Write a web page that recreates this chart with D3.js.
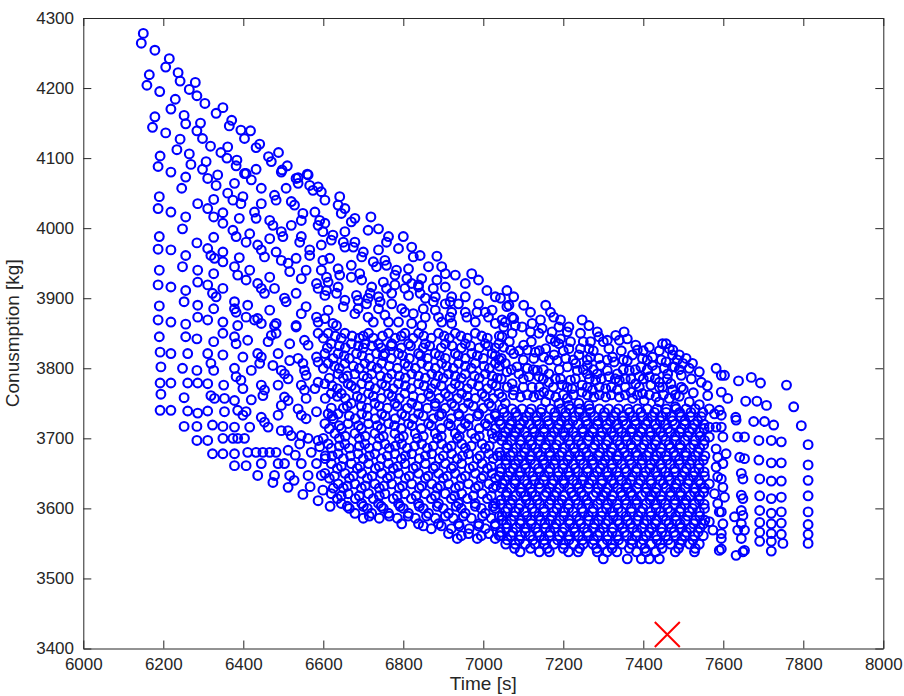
<!DOCTYPE html>
<html>
<head>
<meta charset="utf-8">
<script src="https://cdn.jsdelivr.net/npm/d3@7"></script>
<style>body{margin:0;background:#fff;}</style>
</head>
<body>
<svg id="chart" width="904" height="696"></svg>
<script>
// ---- tick labels ----
const xTicks = [6000, 6200, 6400, 6600, 6800, 7000, 7200, 7400, 7600, 7800, 8000];
const yTicks = [3400, 3500, 3600, 3700, 3800, 3900, 4000, 4100, 4200, 4300];
const xLabel = "Time [s]";
const yLabel = "Conusmption [kg]";

// ---- data: [time s, consumption kg] ----
const leftRegion = [
[6150,4278],[6145,4264],[6179,4254],[6215,4242],[6206,4230],[6237,4222],[6242,4210],[6280,4208],[6165,4219],[6159,4204],
[6191,4195],[6265,4198],[6284,4189],[6304,4178],[6230,4184],[6219,4170],[6349,4172],[6332,4164],[6371,4154],[6365,4146],
[6394,4140],[6418,4139],[6403,4128],[6441,4120],[6432,4115],[6488,4108],[6463,4102],[6470,4095],[6510,4089],[6497,4083],
[6560,4077],[6537,4072],[6179,4159],[6173,4144],[6206,4136],[6252,4161],[6256,4149],[6293,4150],[6284,4139],[6298,4128],
[6242,4127],[6234,4112],[6318,4117],[6361,4116],[6344,4108],[6359,4100],[6384,4097],[6382,4089],[6403,4078],[6432,4084],
[6192,4103],[6187,4088],[6219,4080],[6265,4106],[6269,4091],[6307,4095],[6298,4084],[6336,4076],[6256,4073],
[6246,4057],[6311,4071],[6332,4061],[6378,4064],[6361,4050],[6374,4040],[6399,4045],[6394,4035],[6407,4078],[6420,4069],
[6445,4057],[6445,4035],[6428,4023],[6432,4014],[6495,4080],[6532,4071],[6537,4064],[6562,4076],[6507,4057],[6478,4047],
[6482,4040],[6520,4038],[6528,4033],[6566,4061],[6574,4054],[6587,4059],[6595,4052],[6604,4040],[6579,4023],[6549,4021],
[6545,4011],[6591,4011],[6587,4004],[6190,4045],[6187,4028],[6219,4023],[6286,4035],[6311,4028],[6326,4041],[6326,4016],
[6349,4022],[6349,4007],[6390,4014],[6374,3997],[6382,3988],[6416,3992],[6407,3980],[6256,4016],[6248,3999],[6466,4011],
[6474,4004],[6495,3995],[6499,3988],[6520,4004],[6466,3985],[6436,3976],[6445,3969],[6545,3988],[6541,3980],[6566,3969],
[6566,3961],[6595,3976],[6599,3954],[6190,3988],[6187,3970],[6219,3969],[6284,3979],[6326,3987],[6311,3971],[6319,3961],
[6328,3957],[6349,3966],[6349,3952],[6390,3958],[6378,3945],[6386,3933],[6416,3940],[6407,3926],[6256,3961],[6248,3945],
[6482,3966],[6495,3954],[6453,3959],[6512,3950],[6516,3938],[6532,3957],[6466,3930],[6436,3921],[6445,3914],[6453,3907],
[6557,3940],[6545,3928],[6583,3921],[6587,3914],[6532,3907],[6190,3940],[6187,3919],[6219,3916],[6286,3940],[6286,3923],
[6326,3935],[6311,3919],[6323,3907],[6332,3902],[6349,3914],[6256,3911],[6252,3895],[6378,3895],[6378,3885],[6382,3880],
[6411,3890],[6407,3873],[6478,3914],[6503,3900],[6507,3895],[6466,3883],[6436,3871],[6445,3864],[6557,3888],[6545,3878],
[6583,3873],[6587,3866],[6482,3864],[6190,3889],[6187,3869],[6219,3866],[6286,3890],[6286,3873],[6326,3885],[6311,3869],
[6349,3866],[6256,3863],[6386,3861],[6532,3861],
[6190,3845],[6192,3823],[6219,3821],[6256,3845],[6284,3842],[6261,3821],[6311,3821],[6326,3838],[6349,3819],[6319,3807],
[6326,3797],[6349,3850],[6378,3845],[6382,3835],[6411,3840],[6399,3816],[6378,3800],[6382,3788],[6194,3802],[6248,3800],
[6284,3797],[6192,3779],[6219,3779],[6194,3763],[6261,3779],[6286,3779],[6311,3778],[6252,3758],[6319,3761],[6328,3757],
[6351,3776],[6353,3757],[6394,3783],[6399,3771],[6420,3797],[6378,3754],[6420,3755],[6192,3740],[6219,3740],[6261,3739],
[6286,3736],[6311,3739],[6353,3738],[6386,3740],[6399,3733],[6407,3738],[6252,3717],[6284,3717],[6323,3719],[6349,3717],
[6378,3716],[6416,3716],[6284,3697],[6311,3697],[6349,3700],[6374,3700],[6386,3700],[6403,3700],[6323,3678],[6349,3678],
[6378,3678],[6411,3680],[6432,3680],[6449,3680],[6466,3680],[6482,3680],[6512,3683],[6378,3661],[6407,3661],[6445,3664],
[6487,3664],[6503,3664],[6545,3664],[6583,3664],[6436,3647],[6478,3647],[6516,3647],[6562,3647],[6595,3647],[6428,3869],
[6478,3861],[6462,3838],[6470,3847],[6482,3850],[6516,3835],[6532,3859],[6553,3840],[6562,3833],[6587,3850],[6436,3821],
[6445,3816],[6441,3807],[6487,3821],[6474,3804],[6495,3797],[6503,3792],[6516,3811],[6537,3814],[6549,3807],[6583,3816],
[6587,3809],[6553,3797],[6557,3790],[6512,3785],[6445,3776],[6453,3769],[6449,3761],[6487,3776],[6503,3759],[6512,3754],
[6495,3747],[6545,3776],[6553,3769],[6557,3757],[6587,3780],[6579,3771],[6537,3742],[6545,3733],[6557,3728],[6583,3738],
[6445,3730],[6453,3723],[6462,3716],[6487,3733],[6495,3711],[6512,3711],[6520,3704],[6545,3704],[6562,3700],[6587,3697],
[6591,3688],[6541,3692],[6605,3675],[6570,3680],[6530,3676],
[6474,3637],[6512,3630],[6549,3620],[6587,3611],[6617,3603],[6527,3640],[6567,3631],[6599,3626]
];

const upperMiddleRegion = [
[6641,4045],[6637,4033],[6654,4028],[6645,4021],[6679,4014],[6670,4009],[6719,4016],[6712,3997],[6738,3999],[6763,3988],
[6758,3980],[6800,3988],[6788,3971],[6821,3973],[6825,3959],[6842,3961],[6884,3960],[6863,3945],[6896,3945],[6905,3935],
[6930,3933],[6971,3935],[6988,3926],[6955,3921],[7009,3911],[7059,3911],[7030,3902],[7043,3900],[7064,3890],[6604,4007],
[6599,3995],[6624,3990],[6620,3983],[6654,3995],[6650,3980],[6654,3973],[6679,3980],[6675,3973],[6700,3966],[6696,3959],
[6738,3969],[6725,3952],[6733,3945],[6754,3954],[6758,3947],[6783,3940],[6779,3933],[6813,3942],[6809,3928],[6821,3921],
[6846,3928],[6838,3919],[6884,3926],[6875,3914],[6905,3916],[6921,3902],[6917,3895],[6938,3892],[6955,3902],[6988,3892],
[6984,3880],[7022,3883],[7013,3873],[7059,3888],[7072,3873],[6616,3957],[6595,3940],[6608,3930],[6612,3923],[6637,3942],
[6641,3933],[6670,3947],[6670,3930],[6691,3935],[6696,3926],[6721,3916],[6717,3907],[6750,3923],[6758,3914],[6779,3919],
[6771,3907],[6804,3914],[6813,3904],[6838,3916],[6842,3907],[6855,3900],[6880,3902],[6875,3895],[6905,3892],[6921,3880],
[6917,3873],[6955,3880],[6959,3873],[6980,3866],[7005,3880],[7030,3864],[7055,3866],[6608,3911],[6604,3904],[6637,3916],
[6633,3907],[6654,3897],[6650,3888],[6683,3904],[6687,3897],[6712,3900],[6708,3892],[6738,3902],[6742,3895],[6738,3885],
[6771,3892],[6796,3885],[6804,3880],[6825,3878],[6850,3885],[6855,3873],[6880,3883],[6888,3873],[6896,3866],[6921,3864],
[6612,3883],[6604,3871],[6624,3864],[6633,3861],[6687,3885],[6679,3878],[6712,3873],[6725,3866],[6754,3876],[6763,3866],
[6788,3866],[6821,3864],[6846,3861]
];

const upperRightRegion = [
[7076,3902],[7101,3890],[7118,3880],[7156,3890],[7168,3880],[7176,3873],[7143,3869],[7193,3869],[7189,3859],[7214,3859],
[7210,3852],[7247,3869],[7264,3861],[7243,3850],[7285,3852],[7289,3845],[7331,3847],[7352,3852],[7340,3840],[7360,3842],
[7381,3833],[7385,3826],[7415,3830],[7423,3816],[7448,3835],[7465,3828],[7473,3819],[7310,3840],[7314,3828],[7268,3838],
[7264,3828],[7047,3869],[7051,3859],[7076,3871],[7080,3861],[7097,3859],[7122,3864],[7118,3852],[7147,3857],[7139,3850],
[7172,3852],[7168,3842],[7193,3842],[7189,3835],[7218,3838],[7214,3828],[7243,3828],[7239,3819],[7268,3816],[7289,3814],
[7293,3804],[7323,3816],[7327,3809],[7360,3811],[7373,3819],[7398,3814],[7394,3802],[7423,3804],[7432,3797],[7452,3800],
[7461,3792],[7473,3802],[7047,3845],[7051,3830],[7068,3826],[7076,3821],[7101,3833],[7110,3826],[7130,3823],[7126,3814],
[7156,3828],[7151,3816],[7177,3819],[7185,3811],[7206,3814],[7210,3802],[7231,3807],[7235,3797],[7260,3804],[7260,3792],
[7285,3792],[7281,3783],[7310,3797],[7314,3788],[7335,3792],[7340,3783],[7365,3797],[7369,3785],[7390,3788],[7381,3778],
[7415,3788],[7419,3776],[7440,3780],[7448,3773],[7469,3778],[7473,3769],[7055,3807],[7059,3795],[7084,3802],[7089,3792],
[7110,3800],[7114,3788],[7135,3797],[7139,3788],[7164,3792],[7164,3780],[7193,3785],[7197,3776],[7218,3783],[7222,3771],
[7247,3776],[7247,3766],[7273,3769],[7277,3759],[7306,3771],[7306,3759],[7335,3769],[7340,3759],[7369,3766],[7373,3757],
[7398,3764],[7402,3754],[7432,3759],[7440,3752],[7465,3757],[7072,3778],[7076,3769],[7093,3759],[7122,3773],[7126,3759],
[7151,3766],[7156,3752],[7181,3759],[7189,3750],[7210,3757],[7214,3747],[7239,3750],[7264,3747],[7047,3759],[7055,3750],
[7457,3835],[7474,3826],[7490,3819],[7507,3814],[7523,3807],[7540,3795],[7457,3809],[7478,3802],[7499,3807],[7515,3800],
[7582,3800],[7595,3790],[7603,3790],[7638,3782],[7670,3787],[7693,3779],[7758,3776],[7595,3766],[7611,3757],[7656,3753],
[7684,3753],[7708,3747],[7776,3745],[7495,3790],[7520,3785],[7545,3780],[7500,3770],[7525,3765],[7490,3760],[7515,3752],
[7540,3748],[7560,3775],[7480,3745]
];

const rightColumns = [
[7631,3730],[7632,3726],[7676,3724],[7703,3724],[7726,3719],[7795,3718],[7636,3702],[7653,3702],[7689,3697],[7720,3697],
[7745,3695],[7812,3691],[7641,3673],[7653,3671],[7689,3669],[7720,3665],[7745,3665],[7812,3662],[7645,3650],[7649,3642],
[7691,3642],[7720,3639],[7745,3639],[7812,3640],[7645,3619],[7649,3614],[7691,3618],[7720,3614],[7745,3616],[7812,3618],
[7645,3597],[7649,3590],[7691,3597],[7720,3593],[7745,3595],[7812,3595],[7645,3578],[7653,3569],[7691,3580],[7720,3578],
[7745,3579],[7812,3577],[7645,3557],[7653,3540],[7691,3566],[7720,3564],[7745,3563],[7812,3563],[7691,3553],[7720,3553],
[7749,3550],[7812,3550],[7720,3539],[7632,3533],[7649,3538],
[7590,3740],[7595,3733],[7595,3716],[7599,3702],[7607,3678],[7599,3664],[7595,3642],[7599,3630],[7603,3616],[7595,3595],
[7599,3578],[7595,3564],[7595,3542],[7628,3588],[7636,3569],
[7561,3761],[7565,3742],[7578,3735],[7582,3716],[7565,3716],[7565,3702],[7582,3685],[7586,3673],[7582,3659],[7586,3645],
[7565,3635],[7578,3621],[7586,3607],[7590,3595],[7565,3581],[7574,3569],[7595,3557],[7590,3540]
];

// rows: [consumption, [times...]]
const middleRows = [
[3850,[6612,6654,6713,6763,6804,6838,6888,6930,6980,7072]],
[3843,[6600,6645,6690,6725,6780,6825,6870,6915,6960,7010]],
[3835,[6620,6670,6704,6738,6771,6813,6855,6905,6955,7005,7039]],
[3829,[6610,6655,6700,6745,6795,6850,6895,6945,6990,7030]],
[3821,[6604,6637,6683,6733,6754,6788,6838,6880,6930,6971,7022]],
[3814,[6625,6665,6715,6770,6815,6860,6905,6955,7000,7045]],
[3807,[6612,6654,6704,6746,6804,6846,6896,6938,6980,7030]],
[3800,[6600,6640,6690,6735,6785,6830,6880,6925,6970,7015]],
[3792,[6637,6679,6721,6771,6821,6871,6913,6955,7005]],
[3786,[6615,6650,6710,6760,6805,6855,6900,6945,6990,7035]],
[3778,[6604,6662,6696,6746,6788,6838,6880,6930,6971,7022]],
[3771,[6635,6680,6730,6775,6820,6870,6920,6960,7010]],
[3764,[6620,6645,6713,6763,6804,6863,6905,6946,6997,7039]],
[3757,[6605,6655,6695,6745,6790,6845,6890,6935,6980,7025]],
[3750,[6670,6729,6779,6821,6880,6921,6963,7014]],
[3743,[6620,6650,6710,6760,6810,6860,6905,6950,7000]],
[3735,[6612,6637,6696,6746,6796,6838,6896,6938,6989,7030]],
[3728,[6625,6680,6730,6780,6825,6875,6920,6965,7015]],
[3721,[6604,6662,6713,6763,6813,6863,6913,6955,7005]],
[3714,[6615,6645,6695,6745,6795,6845,6895,6945,6990,7030]],
[3707,[6629,6679,6729,6779,6830,6880,6930,6971,7022]],
[3700,[6600,6640,6690,6740,6790,6835,6885,6935,6980,7025]],
[3692,[6612,6654,6704,6754,6796,6846,6896,6946,6997]],
[3686,[6620,6665,6715,6765,6810,6860,6910,6955,7005]],
[3678,[6637,6687,6729,6779,6821,6871,6921,6963,7014]],
[3671,[6605,6650,6700,6745,6795,6840,6890,6935,6985,7025]],
[3664,[6620,6670,6713,6763,6804,6855,6905,6946,6997]],
[3657,[6635,6685,6730,6775,6825,6875,6920,6965,7010]],
[3650,[6604,6654,6696,6746,6788,6838,6888,6930,6980,7022]],
[3643,[6615,6665,6710,6760,6805,6855,6900,6945,6995,7030]],
[3635,[6637,6679,6729,6771,6821,6871,6913,6963,7014]],
[3629,[6625,6650,6695,6740,6790,6840,6885,6930,6980,7025]],
[3621,[6620,6662,6713,6754,6804,6855,6905,6946,6997]],
[3614,[6635,6680,6725,6775,6820,6870,6920,6960,7010]],
[3607,[6645,6696,6738,6788,6838,6888,6938,6980,7030]],
[3600,[6665,6710,6750,6800,6850,6900,6945,6995,7030]],
[3593,[6679,6721,6763,6813,6863,6913,6955,7005]],
[3586,[6700,6740,6785,6830,6880,6925,6970,7020]],
[3578,[6796,6838,6888,6938,6989,7030]],
[3571,[6870,6920,6965,7005]],
[3564,[6913,6963,7014]],
[3557,[6935,6985,7030]]
];

const middleRowsExtra = [
[3846,[6630,6672,6700,6748,6795,6851,6902,6944,6996,7040]],
[3832,[6640,6688,6722,6770,6818,6866,6922,6968,7012]],
[3818,[6652,6697,6750,6798,6843,6890,6937,6985,7030]],
[3803,[6628,6675,6720,6765,6812,6862,6908,6955,7002,7040]],
[3789,[6660,6700,6743,6790,6838,6887,6930,6978,7022]],
[3775,[6622,6670,6715,6756,6805,6852,6895,6940,6988,7032]],
[3760,[6635,6685,6725,6772,6825,6868,6913,6960,7004]],
[3746,[6660,6695,6740,6785,6836,6880,6928,6975,7020]],
[3732,[6622,6665,6710,6755,6805,6850,6890,6940,6985,7030]],
[3718,[6640,6688,6735,6778,6822,6870,6918,6962,7010]],
[3703,[6655,6705,6750,6800,6850,6895,6940,6990,7035]],
[3689,[6640,6690,6735,6780,6828,6875,6920,6970,7015]],
[3675,[6622,6668,6715,6760,6805,6855,6900,6948,6992,7035]],
[3660,[6645,6692,6740,6786,6832,6880,6925,6975,7020]],
[3646,[6628,6675,6722,6768,6815,6862,6910,6955,7000,7040]],
[3632,[6660,6705,6752,6798,6846,6893,6940,6988,7032]],
[3618,[6645,6690,6740,6785,6832,6880,6928,6975,7020]],
[3603,[6660,6700,6745,6792,6840,6885,6932,6980,7025]],
[3589,[6715,6765,6812,6858,6905,6950,6998,7040]],
[3575,[6850,6895,6940,6988,7030]],
[3561,[6945,6995,7040]]
];

const upperRightExtra = [
[3838,[7065,7120,7180,7250,7300]],
[3825,[7090,7140,7200,7275,7345,7400,7440]],
[3812,[7040,7100,7165,7225,7260,7310,7350,7410,7445,7485]],
[3798,[7070,7125,7150,7190,7250,7275,7350,7380,7410,7490]],
[3785,[7045,7100,7150,7180,7230,7265,7295,7330,7355,7400,7430,7460]],
[3773,[7060,7100,7140,7175,7210,7260,7290,7320,7355,7390,7440,7495]],
[3762,[7075,7110,7140,7165,7200,7225,7260,7290,7320,7355,7385,7415,7450,7480]]
];

const denseRows = [
[3742,[7048,7072,7097,7120,7146,7168,7194,7217,7241,7266,7290,7313,7338,7362,7386,7410,7434,7458,7482,7507,7530]],
[3731,[7060,7084,7108,7133,7157,7181,7205,7229,7254,7278,7301,7326,7350,7374,7398,7422,7446,7470,7494,7518,7545]],
[3720,[7043,7067,7092,7116,7140,7164,7189,7212,7237,7261,7285,7309,7334,7357,7381,7406,7430,7455,7479,7503,7528,7552]],
[3709,[7055,7080,7104,7128,7152,7177,7200,7225,7249,7273,7297,7321,7346,7370,7394,7418,7443,7467,7491,7515,7540]],
[3697,[7046,7070,7093,7117,7142,7166,7190,7214,7238,7262,7287,7311,7335,7359,7383,7408,7432,7456,7480,7504,7529,7553]],
[3686,[7058,7082,7106,7130,7155,7179,7203,7227,7251,7275,7299,7323,7348,7372,7396,7420,7444,7468,7492,7517,7541]],
[3675,[7044,7068,7095,7119,7143,7167,7191,7215,7240,7264,7288,7312,7336,7360,7385,7409,7433,7457,7481,7506,7530,7554]],
[3663,[7056,7080,7104,7129,7153,7177,7201,7225,7250,7274,7298,7322,7346,7370,7395,7419,7443,7467,7491,7516,7540]],
[3652,[7042,7067,7092,7116,7140,7164,7188,7213,7237,7261,7285,7309,7334,7358,7382,7406,7431,7455,7479,7503,7528,7552]],
[3640,[7054,7079,7103,7127,7151,7176,7200,7224,7248,7272,7297,7321,7345,7369,7393,7418,7442,7466,7490,7514,7539]],
[3629,[7045,7069,7094,7118,7142,7166,7190,7215,7239,7263,7287,7311,7336,7360,7384,7408,7433,7457,7481,7505,7529,7553]],
[3618,[7057,7081,7105,7130,7154,7178,7202,7226,7251,7275,7299,7323,7347,7372,7396,7420,7444,7468,7493,7517,7541]],
[3606,[7043,7068,7092,7116,7141,7165,7189,7213,7237,7262,7286,7310,7334,7358,7383,7407,7431,7455,7479,7504,7528,7552]],
[3595,[7055,7080,7104,7128,7152,7176,7201,7225,7249,7273,7297,7322,7346,7370,7394,7418,7443,7467,7491,7515,7540]],
[3583,[7046,7070,7094,7119,7143,7167,7191,7215,7240,7264,7288,7312,7336,7361,7385,7409,7433,7457,7482,7506,7530,7554]],
[3572,[7058,7082,7106,7131,7155,7179,7203,7227,7252,7276,7300,7324,7348,7373,7397,7421,7445,7470,7494,7518,7542]],
[3561,[7044,7069,7093,7117,7141,7165,7190,7214,7238,7262,7286,7311,7335,7359,7383,7407,7432,7456,7480,7504,7528,7550]],
[3549,[7056,7080,7105,7129,7153,7177,7201,7226,7250,7274,7298,7322,7347,7371,7395,7419,7443,7468,7492,7516,7540]],
[3538,[7092,7140,7165,7213,7237,7285,7310,7334,7383,7407,7431,7480,7528]],
[3528,[7300,7360,7395,7415,7440]]
];

const denseRowsExtra = [
[3737,[7052,7081,7115,7144,7179,7206,7240,7268,7303,7331,7366,7394,7428,7457,7491,7519,7549]],
[3725,[7040,7071,7101,7133,7162,7195,7224,7257,7287,7318,7349,7380,7411,7442,7473,7504,7536]],
[3714,[7063,7090,7124,7152,7186,7213,7248,7276,7309,7338,7371,7399,7433,7461,7495,7523,7552]],
[3703,[7049,7078,7110,7141,7170,7203,7232,7264,7294,7326,7356,7387,7418,7449,7480,7511,7542]],
[3691,[7060,7093,7121,7156,7183,7217,7245,7279,7307,7341,7369,7402,7430,7464,7492,7526,7551]],
[3680,[7041,7074,7103,7136,7166,7197,7229,7258,7291,7320,7353,7382,7414,7444,7476,7506,7537]],
[3669,[7057,7088,7118,7150,7180,7211,7242,7273,7304,7335,7366,7397,7428,7459,7490,7521,7550]],
[3657,[7045,7075,7106,7138,7167,7199,7230,7260,7292,7322,7354,7384,7416,7446,7478,7508,7539]],
[3646,[7062,7091,7124,7153,7187,7215,7249,7277,7311,7339,7373,7401,7435,7463,7497,7525,7553]],
[3635,[7048,7079,7110,7140,7172,7202,7234,7264,7296,7326,7358,7388,7420,7450,7482,7512,7543]],
[3623,[7059,7094,7121,7158,7183,7220,7245,7282,7307,7344,7369,7406,7431,7468,7493,7528,7551]],
[3612,[7044,7073,7107,7135,7169,7197,7231,7259,7293,7321,7355,7383,7417,7445,7479,7507,7540]],
[3600,[7061,7089,7122,7151,7184,7213,7246,7275,7308,7337,7370,7399,7432,7461,7494,7523,7553]],
[3589,[7047,7077,7109,7139,7171,7201,7233,7263,7295,7325,7357,7387,7419,7449,7481,7511,7541]],
[3578,[7058,7092,7120,7154,7182,7216,7244,7278,7306,7340,7368,7402,7430,7464,7492,7526,7550]],
[3566,[7043,7074,7105,7136,7167,7198,7229,7260,7291,7322,7353,7384,7415,7446,7477,7508,7537]],
[3555,[7060,7090,7124,7152,7186,7214,7248,7276,7310,7338,7372,7400,7434,7462,7496,7524]],
[3543,[7078,7118,7160,7200,7241,7283,7322,7365,7404,7447,7488,7530]]
];

const bestPoint = [7460, 3420];

// ---- build ----
const fromRows = rows => rows.flatMap(([c, ts]) => ts.map(t => [t, c]));
const allPoints = [].concat(leftRegion, upperMiddleRegion, upperRightRegion, rightColumns,
  fromRows(middleRows), fromRows(middleRowsExtra), fromRows(upperRightExtra),
  fromRows(denseRows), fromRows(denseRowsExtra));

const W = 904, H = 696;
const L = 83.3, R = 883.3, T = 18, B = 648.5;
const svg = d3.select("#chart");
svg.append("rect").attr("width", W).attr("height", H).attr("fill", "#ffffff");

const x = d3.scaleLinear().domain([6000, 8000]).range([L, R]);
const y = d3.scaleLinear().domain([3400, 4300]).range([B, T]);

const axisColor = "#262626";
const fontFam = "'Liberation Sans', Arial, Helvetica, sans-serif";

// markers
svg.append("g").selectAll("circle").data(allPoints).join("circle")
  .attr("cx", d => x(d[0])).attr("cy", d => y(d[1]))
  .attr("r", 4.4).attr("fill", "none")
  .attr("stroke", "#0000ff").attr("stroke-width", 2.1);

// best point marker
const bx = x(bestPoint[0]), by = y(bestPoint[1]), s = 12.5;
svg.append("path")
  .attr("d", `M${bx - s},${by - s}L${bx + s},${by + s}M${bx - s},${by + s}L${bx + s},${by - s}`)
  .attr("stroke", "#ff0000").attr("stroke-width", 2).attr("fill", "none");

// axes
const fmt = d3.format("d");
const gB = svg.append("g").attr("transform", `translate(0,${B})`)
  .call(d3.axisBottom(x).tickValues(xTicks).tickSize(-8).tickSizeOuter(0).tickPadding(9.5).tickFormat(fmt));
const gT = svg.append("g").attr("transform", `translate(0,${T})`)
  .call(d3.axisTop(x).tickValues(xTicks).tickSize(-8).tickSizeOuter(0).tickFormat(""));
const gL = svg.append("g").attr("transform", `translate(${L},0)`)
  .call(d3.axisLeft(y).tickValues(yTicks).tickSize(-8).tickSizeOuter(0).tickPadding(9.3).tickFormat(fmt));
const gR = svg.append("g").attr("transform", `translate(${R},0)`)
  .call(d3.axisRight(y).tickValues(yTicks).tickSize(-8).tickSizeOuter(0).tickFormat(""));

[gB, gT, gL, gR].forEach(g => {
  g.selectAll(".domain").attr("stroke", axisColor).attr("stroke-width", 1);
  g.selectAll(".tick line").attr("stroke", axisColor).attr("stroke-width", 1);
  g.selectAll(".tick text").attr("fill", axisColor)
    .attr("font-family", fontFam).attr("font-size", 17);
});

// axis labels
svg.append("text").attr("x", (L + R) / 2).attr("y", 690)
  .attr("text-anchor", "middle").attr("font-family", fontFam).attr("font-size", 19)
  .attr("fill", axisColor).text(xLabel);
svg.append("text").attr("transform", `translate(19,${(T + B) / 2}) rotate(-90)`)
  .attr("text-anchor", "middle").attr("font-family", fontFam).attr("font-size", 19)
  .attr("fill", axisColor).text(yLabel);
</script>
</body>
</html>
